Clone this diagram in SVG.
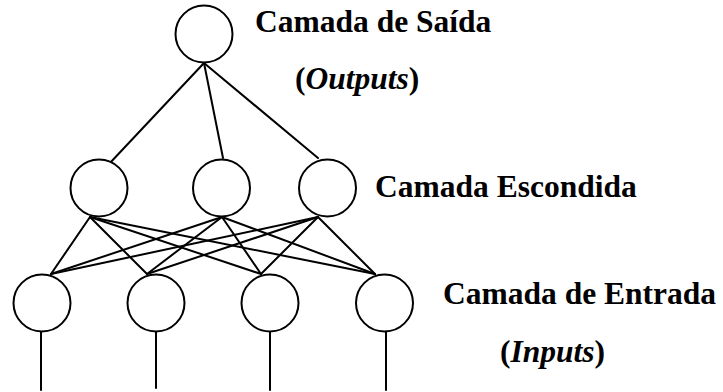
<svg xmlns="http://www.w3.org/2000/svg" width="723" height="392" viewBox="0 0 723 392">
  <style>
    .node { fill: #fff; stroke: #000; stroke-width: 2; }
    .edge { stroke: #000; stroke-width: 2; fill: none; stroke-linecap: round; }
    .lbl { font-family: "Liberation Serif", "Times New Roman", serif; font-weight: bold; font-size: 31.5px; fill: #000; }
    .it { font-style: italic; }
  </style>
  <rect width="723" height="392" fill="#fff"/>

  <!-- connections -->
  <g id="connectors">
    <!-- output to hidden -->
    <line class="edge" x1="204" y1="63" x2="109" y2="164"/>
    <line class="edge" x1="204" y1="63" x2="223" y2="158"/>
    <line class="edge" x1="204" y1="63" x2="318" y2="158"/>
    <!-- hidden to input (fully connected) -->
    <line class="edge" x1="90" y1="217" x2="51" y2="274"/>
    <line class="edge" x1="90" y1="217" x2="147" y2="274"/>
    <line class="edge" x1="90" y1="217" x2="261" y2="274"/>
    <line class="edge" x1="90" y1="217" x2="375" y2="274"/>
    <line class="edge" x1="222" y1="217" x2="51" y2="274"/>
    <line class="edge" x1="222" y1="217" x2="147" y2="274"/>
    <line class="edge" x1="222" y1="217" x2="261" y2="274"/>
    <line class="edge" x1="222" y1="217" x2="375" y2="274"/>
    <line class="edge" x1="318" y1="217" x2="51" y2="274"/>
    <line class="edge" x1="318" y1="217" x2="147" y2="274"/>
    <line class="edge" x1="318" y1="217" x2="261" y2="274"/>
    <line class="edge" x1="318" y1="217" x2="375" y2="274"/>
    <!-- input leads -->
    <line class="edge" x1="41" y1="332" x2="41" y2="390"/>
    <line class="edge" x1="156" y1="332" x2="156" y2="388"/>
    <line class="edge" x1="270" y1="332" x2="270" y2="390"/>
    <line class="edge" x1="386" y1="332" x2="386" y2="390"/>
  </g>

  <!-- output layer -->
  <g id="out1"><circle class="node" cx="204" cy="34" r="28.5"/></g>

  <!-- hidden layer -->
  <g id="hid1"><circle class="node" cx="99" cy="188" r="28.5"/></g>
  <g id="hid2"><circle class="node" cx="221.5" cy="188" r="28.5"/></g>
  <g id="hid3"><circle class="node" cx="327.5" cy="188" r="28.5"/></g>

  <!-- input layer -->
  <g id="in1"><circle class="node" cx="42" cy="303" r="28.5"/></g>
  <g id="in2"><circle class="node" cx="156" cy="303" r="28.5"/></g>
  <g id="in3"><circle class="node" cx="270" cy="303" r="28.5"/></g>
  <g id="in4"><circle class="node" cx="384.5" cy="303" r="28.5"/></g>

  <!-- layer labels -->
  <g id="labels">
    <text class="lbl" x="255" y="32">Camada de Saída</text>
    <text class="lbl" x="295" y="89">(<tspan class="it">Outputs</tspan>)</text>
    <text class="lbl" x="375" y="197">Camada Escondida</text>
    <text class="lbl" x="443" y="304">Camada de Entrada</text>
    <text class="lbl" x="500" y="362">(<tspan class="it">Inputs</tspan>)</text>
  </g>
</svg>
